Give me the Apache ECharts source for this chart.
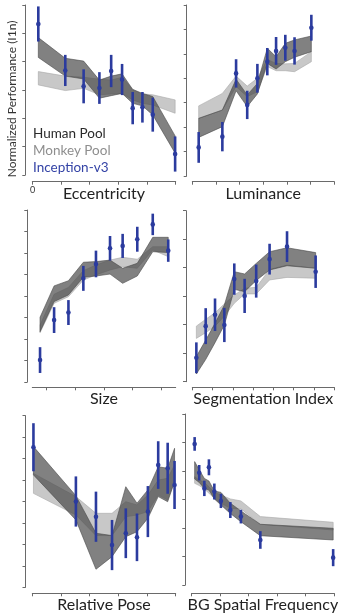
<!DOCTYPE html>
<html>
<head>
<meta charset="utf-8">
<script src="https://cdn.jsdelivr.net/npm/echarts@6/dist/echarts.min.js"></script>
<style>
  html, body { margin: 0; padding: 0; background: #fff; }
  #chart { width: 345px; height: 616px; }
</style>
</head>
<body>
<div id="chart"></div>
<script>
// ---- Eccentricity ----
const eccX        = [0.21, 1.15, 1.79, 2.34, 2.75, 3.13, 3.50, 3.84, 4.20, 4.98];
const eccHumanHi  = [4.85, 4.12, 4.02, 3.35, 3.49, 3.57, 3.02, 2.88, 2.77, 1.38];
const eccHumanLo  = [4.15, 3.49, 3.39, 2.71, 2.80, 2.88, 2.53, 2.44, 2.12, 0.77];
const eccMonkeyHi = [3.65, 3.49, 3.45, 3.38, 3.35, 3.45, 3.02, 2.86, 2.83, 2.65];
const eccMonkeyLo = [3.18, 2.98, 3.06, 2.83, 2.86, 2.88, 2.65, 2.53, 2.47, 2.18];
const eccModel    = [5.33, 3.69, 3.13, 3.07, 3.67, 3.37, 2.36, 2.39, 2.13, 0.74];
const eccModelErr = [0.62, 0.55, 0.60, 0.56, 0.57, 0.55, 0.57, 0.54, 0.60, 0.62];

// ---- Luminance ----
const lumX        = [0.27, 1.27, 1.85, 2.32, 2.75, 3.17, 3.54, 3.93, 4.32, 5.03];
const lumHumanHi  = [2.36, 2.70, 3.96, 3.32, 3.79, 5.23, 4.88, 5.43, 5.57, 5.73];
const lumHumanLo  = [1.58, 2.02, 3.49, 2.84, 3.36, 4.61, 4.38, 4.68, 4.86, 5.09];
const lumMonkeyHi = [2.87, 3.38, 4.09, 3.68, 4.00, 4.77, 4.61, 4.59, 4.61, 5.09];
const lumMonkeyLo = [2.36, 2.70, 3.66, 3.25, 3.45, 4.48, 4.31, 4.31, 4.27, 4.68];
const lumModel    = [1.17, 1.61, 4.20, 2.91, 4.00, 4.68, 5.12, 5.25, 5.12, 6.07];
const lumModelErr = [0.63, 0.60, 0.58, 0.58, 0.59, 0.56, 0.57, 0.53, 0.56, 0.53];

// ---- Size ----
const sizeX        = [0.27, 0.76, 1.26, 1.78, 2.22, 2.71, 3.15, 3.66, 4.20, 4.74];
const sizeHumanHi  = [3.01, 4.47, 4.71, 5.57, 5.60, 5.67, 5.29, 5.52, 6.73, 6.73];
const sizeHumanLo  = [2.34, 3.74, 4.05, 4.87, 4.93, 5.02, 4.59, 4.93, 6.06, 6.02];
const sizeMonkeyHi = [2.65, 4.08, 4.40, 5.18, 5.44, 5.67, 5.80, 5.71, 6.29, 6.29];
const sizeMonkeyLo = [2.29, 3.66, 3.97, 4.74, 4.98, 5.21, 5.36, 5.29, 6.14, 5.83];
const sizeModel    = [1.02, 2.88, 3.23, 4.82, 5.49, 6.22, 6.33, 6.64, 7.33, 6.11];
const sizeModelErr = [0.60, 0.60, 0.58, 0.58, 0.62, 0.57, 0.56, 0.58, 0.50, 0.52];
const sizeTicks    = [0.5, 1.5, 2.5, 3.5, 4.5];

// ---- Segmentation Index ----
const segX        = [0.20, 0.66, 1.12, 1.58, 2.07, 2.58, 3.15, 3.81, 4.67, 6.08];
const segHumanHi  = [0.88, 1.46, 2.05, 2.69, 3.86, 3.78, 4.15, 4.56, 4.70, 4.53];
const segHumanLo  = [0.27, 0.78, 1.37, 1.99, 3.24, 3.16, 3.55, 3.92, 4.07, 3.98];
const segMonkeyHi = [1.95, 2.19, 2.42, 2.73, 3.04, 3.28, 3.31, 3.94, 4.09, 3.98];
const segMonkeyLo = [1.52, 1.72, 1.95, 2.30, 2.75, 3.08, 3.08, 3.57, 3.66, 3.63];
const segModel    = [0.84, 1.95, 2.35, 1.99, 3.60, 3.01, 3.53, 4.30, 4.74, 3.86];
const segModelErr = [0.54, 0.63, 0.57, 0.60, 0.55, 0.60, 0.58, 0.54, 0.54, 0.57];

// ---- Relative Pose ----
const poseX        = [0.04, 1.52, 2.22, 2.78, 3.26, 3.65, 4.03, 4.39, 4.72, 4.96];
const poseHumanHi  = [6.56, 4.27, 2.52, 2.41, 4.69, 3.92, 4.54, 5.62, 5.55, 6.48];
const poseHumanLo  = [5.24, 3.14, 0.84, 1.43, 2.36, 2.59, 3.22, 4.23, 3.99, 4.93];
const poseMonkeyHi = [5.31, 4.23, 3.45, 3.45, 3.99, 3.84, 4.30, 5.00, 5.08, 5.70];
const poseMonkeyLo = [4.38, 3.37, 2.41, 2.41, 3.29, 3.37, 3.53, 4.30, 4.07, 4.93];
const poseModel    = [6.53, 4.00, 3.29, 1.97, 2.52, 2.33, 3.53, 5.70, 5.55, 4.77];
const poseModelErr = [1.12, 1.17, 1.17, 1.17, 1.16, 1.11, 1.19, 1.11, 1.19, 1.12];

// ---- BG Spatial Frequency ----
const bgX        = [0.11, 0.27, 0.45, 0.61, 0.80, 1.03, 1.36, 1.73, 2.41, 4.96];
const bgHumanHi  = [4.33, 4.04, 3.74, 3.65, 3.30, 3.25, 2.87, 2.60, 2.13, 1.99];
const bgHumanLo  = [3.72, 3.60, 3.39, 3.33, 3.02, 2.81, 2.51, 2.22, 1.73, 1.58];
const bgMonkeyHi = [3.80, 3.68, 3.60, 3.45, 3.25, 3.16, 3.02, 2.95, 2.40, 2.20];
const bgMonkeyLo = [3.57, 3.49, 3.37, 3.22, 3.04, 2.87, 2.69, 2.67, 2.13, 1.93];
const bgModel    = [4.95, 3.94, 3.39, 4.13, 3.28, 2.95, 2.63, 2.40, 1.58, 0.96];
const bgModelErr = [0.24, 0.27, 0.27, 0.28, 0.28, 0.25, 0.28, 0.24, 0.31, 0.30];

const panelNames = ['Eccentricity', 'Luminance', 'Size', 'Segmentation Index', 'Relative Pose', 'BG Spatial Frequency'];
const panels = [
  { x: eccX,  hLo: eccHumanLo,  hHi: eccHumanHi,  mLo: eccMonkeyLo,  mHi: eccMonkeyHi,  v: eccModel,  e: eccModelErr },
  { x: lumX,  hLo: lumHumanLo,  hHi: lumHumanHi,  mLo: lumMonkeyLo,  mHi: lumMonkeyHi,  v: lumModel,  e: lumModelErr },
  { x: sizeX, hLo: sizeHumanLo, hHi: sizeHumanHi, mLo: sizeMonkeyLo, mHi: sizeMonkeyHi, v: sizeModel, e: sizeModelErr },
  { x: segX,  hLo: segHumanLo,  hHi: segHumanHi,  mLo: segMonkeyLo,  mHi: segMonkeyHi,  v: segModel,  e: segModelErr },
  { x: poseX, hLo: poseHumanLo, hHi: poseHumanHi, mLo: poseMonkeyLo, mHi: poseMonkeyHi, v: poseModel, e: poseModelErr },
  { x: bgX,   hLo: bgHumanLo,   hHi: bgHumanHi,   mLo: bgMonkeyLo,   mHi: bgMonkeyHi,   v: bgModel,   e: bgModelErr }
];

// Panel geometry (pixels) and axis extents
const layout = [
  { left: 32.3,  top: 5,     width: 143.4, height: 170,   yOff: 7,   xOff: 6.7, xMax: 5, yMax: 6 },
  { left: 192.3, top: 5,     width: 142,   height: 171,   yOff: 5.6, xOff: 5.7, xMax: 6, yMax: 7 },
  { left: 32.3,  top: 210,   width: 143.4, height: 172,   yOff: 5,   xOff: 5.3, xMax: 5, yMax: 8, ticks: sizeTicks },
  { left: 192.3, top: 210.7, width: 142,   height: 171,   yOff: 6.3, xOff: 5.6, xMax: 7, yMax: 6 },
  { left: 32.3,  top: 415.7, width: 143.4, height: 171.6, yOff: 6.8, xOff: 6,   xMax: 5, yMax: 8 },
  { left: 191.5, top: 414,   width: 142.8, height: 171,   yOff: 6.2, xOff: 8.3, xMax: 5, yMax: 6 }
];

const FONT = 'Lato';
const AXIS = '#6a6a6a';
const BLUE = '#2b3b9e';
const HUMAN_FILL = 'rgba(70,70,70,0.68)';
const HUMAN_EDGE = '#4a4a4a';
const MONKEY_FILL = 'rgba(190,190,190,0.85)';
const MONKEY_EDGE = '#a8a8a8';

function band(i, xs, lo, hi, fill, stroke) {
  return {
    type: 'custom', xAxisIndex: i, yAxisIndex: i, silent: true, clip: false,
    data: xs.map((x, k) => [x, lo[k], hi[k]]),
    encode: { x: 0, y: [1, 2] },
    renderItem(params, api) {
      if (params.dataIndex !== 0) return null;
      const top = xs.map((x, k) => api.coord([x, hi[k]]));
      const bot = xs.map((x, k) => api.coord([x, lo[k]])).reverse();
      return {
        type: 'polygon',
        shape: { points: top.concat(bot) },
        style: { fill: fill, stroke: stroke, lineWidth: 0.6, lineJoin: 'round' }
      };
    }
  };
}

function errorBars(i, xs, vals, errs) {
  return {
    type: 'custom', xAxisIndex: i, yAxisIndex: i, silent: true, clip: false,
    data: xs.map((x, k) => [x, vals[k], errs[k]]),
    encode: { x: 0, y: 1 },
    renderItem(params, api) {
      const x = api.value(0), v = api.value(1), d = api.value(2);
      const lo = api.coord([x, v - d]);
      const hi = api.coord([x, v + d]);
      const c = api.coord([x, v]);
      return {
        type: 'group',
        children: [
          { type: 'line', shape: { x1: lo[0], y1: lo[1], x2: hi[0], y2: hi[1] },
            style: { stroke: BLUE, lineWidth: 2.6 } },
          { type: 'circle', shape: { cx: c[0], cy: c[1], r: 2.3 }, style: { fill: BLUE } }
        ]
      };
    }
  };
}

const grids = [], xAxes = [], yAxes = [], series = [];
layout.forEach((g, i) => {
  grids.push({ left: g.left, top: g.top, width: g.width, height: g.height,
               containLabel: false, outerBoundsMode: 'none' });
  const tick = { show: true, length: 3, lineStyle: { color: AXIS, width: 1 } };
  if (g.ticks) tick.customValues = g.ticks;
  xAxes.push({
    gridIndex: i, type: 'value', min: 0, max: g.xMax, interval: 1, offset: g.xOff,
    axisLine: { show: true, onZero: false, lineStyle: { color: AXIS, width: 1 } },
    axisTick: tick,
    axisLabel: { show: false },
    splitLine: { show: false },
    name: panelNames[i], nameLocation: 'middle', nameGap: 4,
    nameTextStyle: { fontSize: 16, color: '#222', fontFamily: FONT, verticalAlign: 'top' }
  });
  yAxes.push({
    gridIndex: i, type: 'value', min: 0, max: g.yMax, interval: 1, offset: g.yOff,
    axisLine: { show: true, onZero: false, lineStyle: { color: AXIS, width: 1 } },
    axisTick: { show: true, length: 3, lineStyle: { color: AXIS, width: 1 } },
    axisLabel: { show: false },
    splitLine: { show: false }
  });
  const p = panels[i];
  series.push(band(i, p.x, p.mLo, p.mHi, MONKEY_FILL, MONKEY_EDGE));
  series.push(band(i, p.x, p.hLo, p.hHi, HUMAN_FILL, HUMAN_EDGE));
  series.push(errorBars(i, p.x, p.v, p.e));
});

const chart = echarts.init(document.getElementById('chart'), null, { renderer: 'canvas' });
chart.setOption({
  animation: false,
  backgroundColor: '#fff',
  grid: grids, xAxis: xAxes, yAxis: yAxes, series: series,
  graphic: [
    { type: 'text', x: 12, y: 99, rotation: Math.PI / 2,
      style: { text: 'Normalized Performance (I1n)', fontSize: 12, fontFamily: FONT,
               fill: '#333', align: 'center', verticalAlign: 'middle' } },
    // origin label under the first Eccentricity tick
    { type: 'text', x: 32.5, y: 186,
      style: { text: '0', fontSize: 9, fontFamily: FONT, fill: '#333', align: 'center', verticalAlign: 'top' } },
    { type: 'text', left: 33, top: 127,
      style: { text: 'Human Pool', fontSize: 13.5, fontFamily: FONT, fill: '#2a2a2a' } },
    { type: 'text', left: 33, top: 144,
      style: { text: 'Monkey Pool', fontSize: 13.5, fontFamily: FONT, fill: '#8e8e8e' } },
    { type: 'text', left: 33, top: 161,
      style: { text: 'Inception-v3', fontSize: 13.5, fontFamily: FONT, fill: '#3443a6' } }
  ]
});
</script>
</body>
</html>
